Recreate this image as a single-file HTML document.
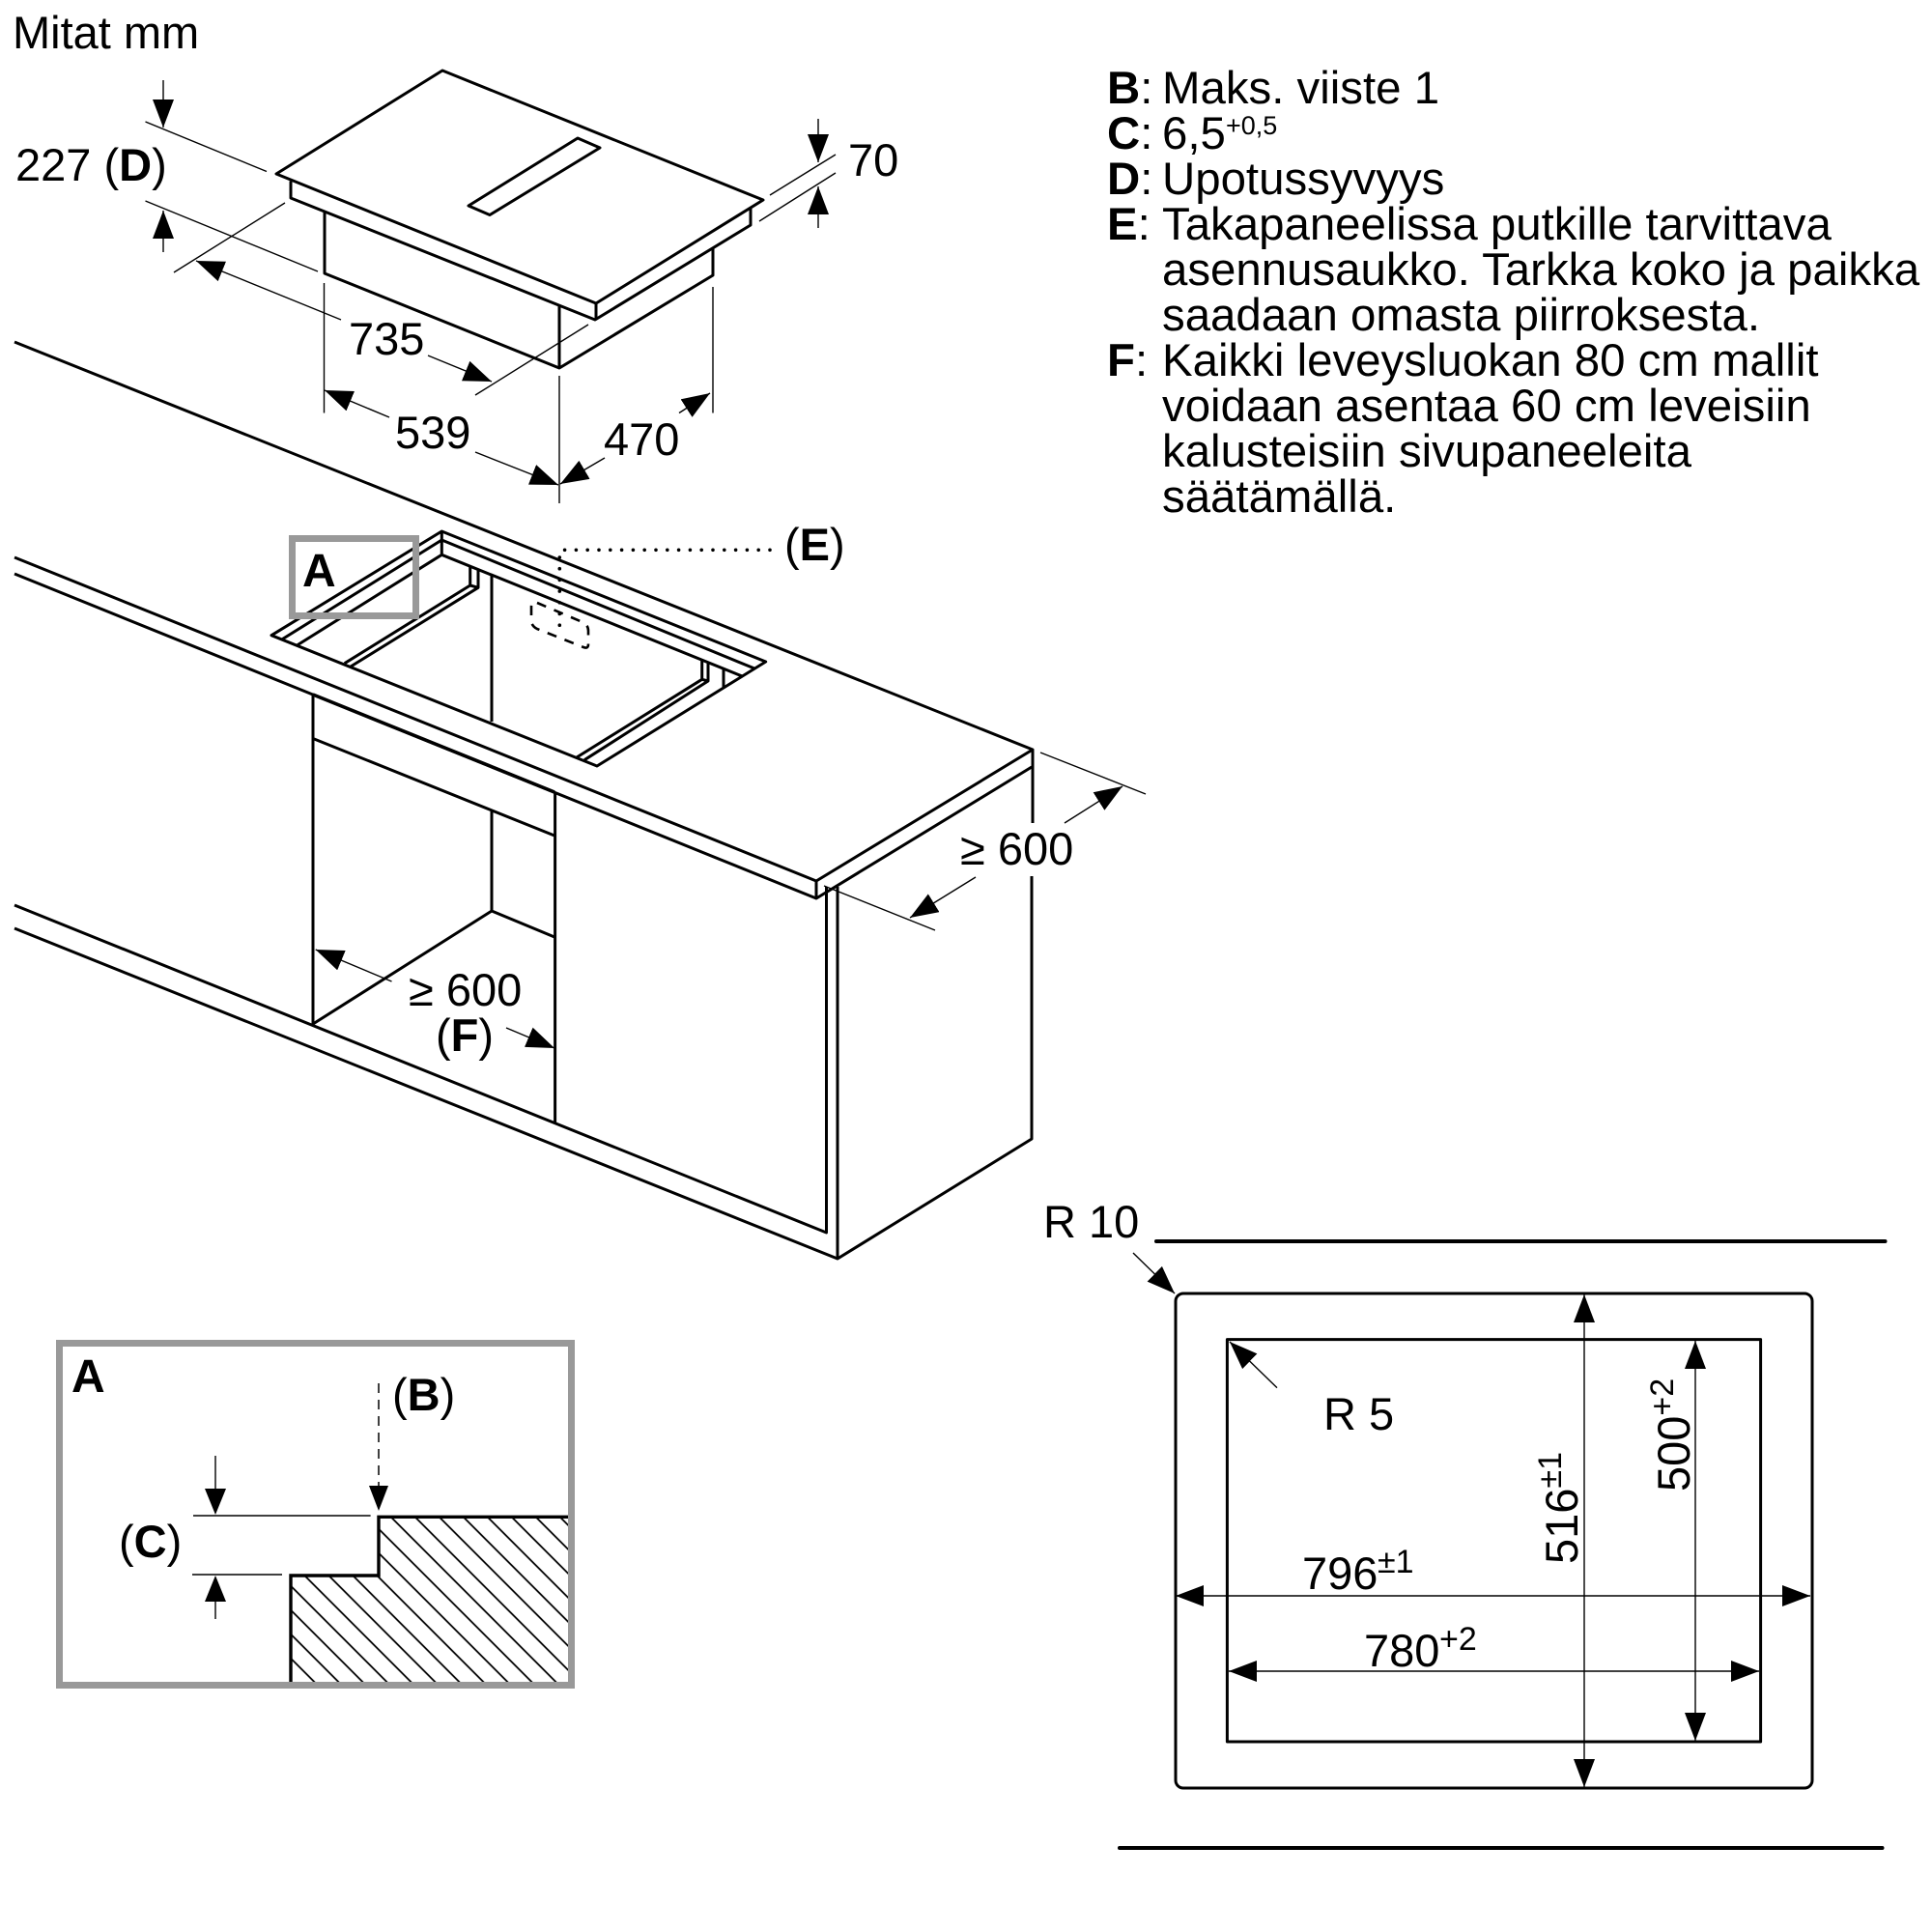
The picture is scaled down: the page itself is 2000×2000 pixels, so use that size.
<!DOCTYPE html>
<html><head><meta charset="utf-8"><style>
html,body{margin:0;padding:0;background:#fff;width:2000px;height:2000px;overflow:hidden}
svg{display:block}
text{font-family:"Liberation Sans",sans-serif;font-size:47px;fill:#000}
.l{font-size:47.4px}
.b{font-weight:bold}
.s{font-size:34px}
.m{fill:none;stroke:#000;stroke-width:3;stroke-linejoin:round}
.t{fill:none;stroke:#000;stroke-width:1.4}
.a{fill:none;stroke:#000;stroke-width:1.4;marker-end:url(#ah)}
</style></head><body>
<svg width="2000" height="2000" viewBox="0 0 2000 2000" xmlns="http://www.w3.org/2000/svg">
<defs>
<marker id="ah" markerUnits="userSpaceOnUse" markerWidth="29" markerHeight="22" refX="29" refY="11" orient="auto"><path d="M0 0L29 11L0 22Z" fill="#000"/></marker>
<pattern id="h" patternUnits="userSpaceOnUse" x="404.3" y="1570" width="25" height="25"><path d="M-2 -2L27 27M-2 23L2 27M23 -2L27 2" stroke="#000" stroke-width="1.8" fill="none"/></pattern>
</defs>
<rect width="2000" height="2000" fill="#fff"/>

<text x="13" y="50">Mitat mm</text>

<!-- hob -->
<path class="m" d="M458 73L286 180L617 314L790 207Z"/>
<path class="m" d="M598 143L621 153L507 222.5L485 213Z"/>
<path class="m" d="M301 187.5V205L616 331L777 233V216M617 314V331"/>
<path class="m" d="M336 218.5V283L579 381L738 285V257M579 316V381"/>
<path class="t" d="M150.5 126L276 177.5M150.5 208L329 281M295 210L180 282M609 336L492 409M335.5 293V427.5M579 389V521M738 297V427.5M797 202L865 160M786 229L865 179"/>
<line class="a" x1="169" y1="83" x2="169" y2="132"/>
<line class="a" x1="169" y1="261" x2="169" y2="218"/>
<line class="a" x1="353" y1="331" x2="203" y2="270"/>
<line class="a" x1="443" y1="368" x2="509" y2="395"/>
<line class="a" x1="403" y1="432" x2="336" y2="404"/>
<line class="a" x1="492" y1="468" x2="578" y2="502"/>
<line class="a" x1="703" y1="427.5" x2="735" y2="407"/>
<line class="a" x1="626" y1="474" x2="580" y2="501"/>
<line class="a" x1="847" y1="123" x2="847" y2="168"/>
<line class="a" x1="847" y1="236" x2="847" y2="193"/>
<text x="16" y="187">227 (<tspan class="b">D</tspan>)</text>
<text x="878" y="182">70</text>
<text x="361" y="367">735</text>
<text x="409" y="464">539</text>
<text x="625" y="471">470</text>

<!-- legend -->
<text class="l" x="1146" y="107"><tspan class="b">B</tspan>:</text><text class="l" x="1203" y="107">Maks. viiste 1</text>
<text class="l" x="1146" y="154"><tspan class="b">C</tspan>:</text><text class="l" x="1203" y="154">6,5</text><text x="1269" y="139" style="font-size:27px">+0,5</text>
<text class="l" x="1146" y="201"><tspan class="b">D</tspan>:</text><text class="l" x="1203" y="201">Upotussyvyys</text>
<text class="l" x="1146" y="248"><tspan class="b">E</tspan>:</text><text class="l" x="1203" y="248">Takapaneelissa putkille tarvittava</text>
<text class="l" x="1203" y="295">asennusaukko. Tarkka koko ja paikka</text>
<text class="l" x="1203" y="342">saadaan omasta piirroksesta.</text>
<text class="l" x="1146" y="389"><tspan class="b">F</tspan>:</text><text class="l" x="1203" y="389">Kaikki leveysluokan 80 cm mallit</text>
<text class="l" x="1203" y="436">voidaan asentaa 60 cm leveisiin</text>
<text class="l" x="1203" y="483">kalusteisiin sivupaneeleita</text>
<text class="l" x="1203" y="530">säätämällä.</text>

<!-- worktop and cabinets -->
<path class="m" d="M15 354L1069 776L845 912V930M15 577L845 912M15 594L845 930L1068 794"/>
<path class="m" d="M1069 776V852M1068 907V1179L867 1303L15 961M15 937L855.5 1276V918M867 918V1303"/>
<path class="m" d="M324 719V1060M574.6 820V1162M324 764.5L574 865M509 840V943L574 970M509 943L324 1060"/>
<path class="m" style="stroke-width:3.6" d="M324 719L574 820"/>

<!-- cutout -->
<path class="m" d="M457.3 550L281 657.7L618 793L792.7 685ZM457.3 550V574.3M457.3 559L291.7 662M457.3 574.3L307.5 668M457.3 559L781.7 692.3M457.3 574.3L768.3 700"/>
<path class="m" d="M486.7 586.7V606L356.7 686.7M495 590V608.3L363 690M486.7 606L495 608.3"/>
<path class="m" d="M509 595V747"/>
<path class="m" d="M726.7 683V703.3L597 784M733 686.7V705L605 786.7M726.7 703.3L733 705M749 692V713"/>
<path fill="none" stroke="#000" stroke-width="3.6" stroke-linecap="round" stroke-dasharray="0 11.8" d="M797 569.3H583"/>
<path fill="none" stroke="#000" stroke-width="3.6" stroke-linecap="round" stroke-dasharray="0 11.7" d="M579.3 577V648"/>
<path fill="none" stroke="#000" stroke-width="2.6" stroke-dasharray="10 9" d="M556 624L603 644Q609 647 609 653V667Q609 672 604 670L556 651Q550 648 550 642V628Q550 622 556 624Z"/>
<rect x="302.5" y="557.5" width="128" height="80" fill="none" stroke="#999" stroke-width="7"/>
<text class="b" x="313" y="607" style="font-size:48px">A</text>
<text x="812" y="580">(<tspan class="b">E</tspan>)</text>

<!-- >=600 -->
<path class="t" d="M1077 779L1186 822M853 917L968 963"/>
<line class="a" x1="1102" y1="852" x2="1162" y2="814"/>
<line class="a" x1="1010" y1="908" x2="942" y2="950"/>
<text x="994" y="895">≥ 600</text>
<line class="a" x1="405.5" y1="1016" x2="326.7" y2="983"/>
<line class="a" x1="524" y1="1064" x2="574" y2="1085"/>
<text x="423" y="1041">≥ 600</text>
<text x="451" y="1088">(<tspan class="b">F</tspan>)</text>

<!-- detail A -->
<rect x="61.5" y="1390.5" width="530" height="354" fill="none" stroke="#999" stroke-width="7"/>
<path d="M588 1570.3H392V1631H301V1741H588Z" fill="url(#h)"/>
<path fill="none" stroke="#000" stroke-width="3.4" d="M588 1570.3H392V1631H301V1741"/>
<text class="b" x="74" y="1441" style="font-size:48px">A</text>
<text x="406" y="1460">(<tspan class="b">B</tspan>)</text>
<text x="123" y="1612">(<tspan class="b">C</tspan>)</text>
<path fill="none" stroke="#000" stroke-width="1.5" stroke-dasharray="10 7" d="M392 1432V1540"/>
<path d="M382 1538H402L392 1564Z" fill="#000"/>
<path class="t" d="M223 1507V1545M223 1655V1676M200 1569H383.6M199 1630H292"/>
<path d="M212 1541H234L223 1568Z M212 1658H234L223 1631Z" fill="#000"/>

<!-- plan -->
<path fill="none" stroke="#000" stroke-width="4" stroke-linecap="round" d="M1197 1285H1951.5M1159 1913H1948.5"/>
<rect x="1217" y="1339" width="659" height="512" rx="8" class="m"/>
<rect x="1270.4" y="1386.6" width="552.2" height="416.4" class="m"/>
<line class="a" x1="1640" y1="1600" x2="1640" y2="1340"/>
<line class="a" x1="1640" y1="1600" x2="1640" y2="1850"/>
<line class="a" x1="1755" y1="1600" x2="1755" y2="1388"/>
<line class="a" x1="1755" y1="1600" x2="1755" y2="1802"/>
<line class="a" x1="1500" y1="1652" x2="1217" y2="1652"/>
<line class="a" x1="1500" y1="1652" x2="1874" y2="1652"/>
<line class="a" x1="1500" y1="1730" x2="1272" y2="1730"/>
<line class="a" x1="1500" y1="1730" x2="1821" y2="1730"/>
<line class="a" x1="1322" y1="1436.6" x2="1273" y2="1389"/>
<line class="a" x1="1173" y1="1297" x2="1216" y2="1339"/>
<text x="1080" y="1281">R 10</text>
<text x="1370" y="1480">R 5</text>
<text x="1348" y="1645">796</text><text class="s" x="1426" y="1628">±1</text>
<text x="1412" y="1725">780</text><text class="s" x="1490" y="1708">+2</text>
<text transform="translate(1633 1619) rotate(-90)">516<tspan class="s" dy="-17">±1</tspan></text>
<text transform="translate(1749 1544) rotate(-90)">500<tspan class="s" dy="-17">+2</tspan></text>
</svg>
</body></html>
